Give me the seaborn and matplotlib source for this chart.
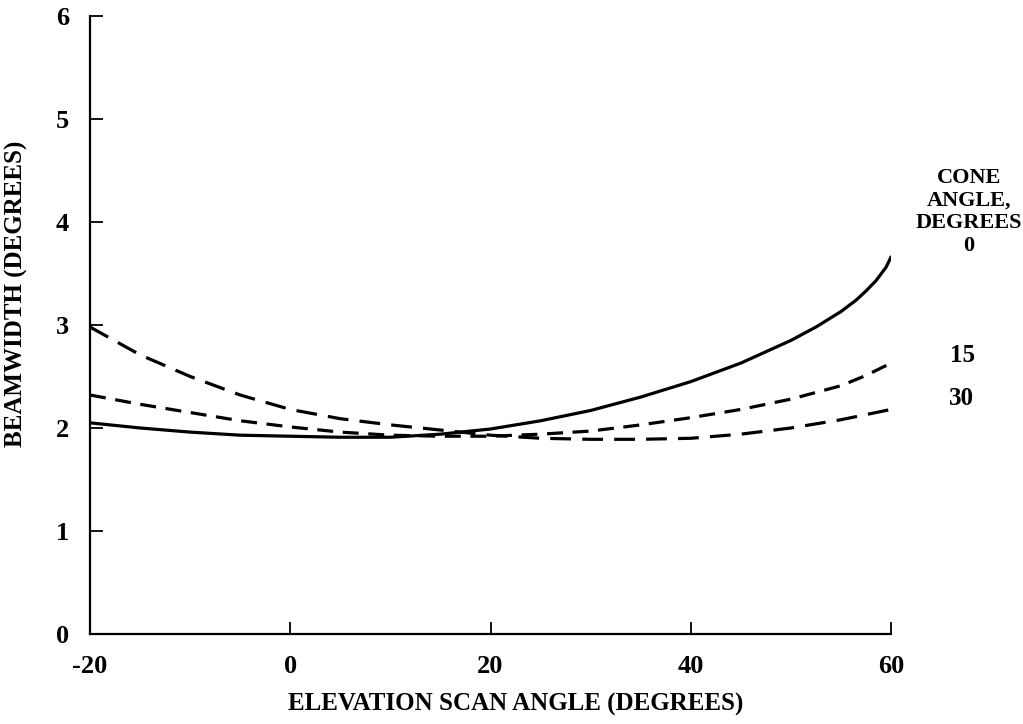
import matplotlib
matplotlib.use("Agg")
import matplotlib.pyplot as plt
import seaborn as sns
import pandas as pd

# Elevation scan angle (degrees) and beamwidth (degrees) read per cone angle
scan_0 = [-20, -15, -10, -5, 0, 5, 10, 15, 20, 25, 30, 35, 40, 45, 47.5, 50, 52.5, 55, 56.5, 57.5, 58.5, 59.5, 60]
bw_cone_0 = [2.05, 2.00, 1.96, 1.93, 1.92, 1.91, 1.91, 1.94, 1.99, 2.07, 2.17, 2.30, 2.45, 2.63, 2.74, 2.85, 2.98, 3.13, 3.24, 3.33, 3.43, 3.56, 3.66]
scan_15 = [-20, -15, -10, -5, 0, 5, 10, 15, 20, 25, 30, 35, 40, 45, 50, 55, 57.5, 60]
bw_cone_15 = [2.32, 2.23, 2.15, 2.07, 2.01, 1.96, 1.93, 1.92, 1.92, 1.94, 1.97, 2.03, 2.10, 2.18, 2.28, 2.41, 2.51, 2.63]
scan_30 = [-20, -15, -10, -5, 0, 5, 10, 15, 20, 25, 30, 35, 40, 45, 50, 55, 57.5, 60]
bw_cone_30 = [2.98, 2.71, 2.50, 2.32, 2.18, 2.09, 2.03, 1.98, 1.93, 1.90, 1.89, 1.89, 1.90, 1.94, 2.00, 2.08, 2.13, 2.18]
cone_labels = ["0", "15", "30"]

x_ticks = [-20, 0, 20, 40, 60]
y_ticks = [0, 1, 2, 3, 4, 5, 6]

rows = []
for lab, xs, vals in zip(cone_labels, [scan_0, scan_15, scan_30], [bw_cone_0, bw_cone_15, bw_cone_30]):
    for xv, yv in zip(xs, vals):
        rows.append({"scan": xv, "bw": yv, "cone": lab})
df = pd.DataFrame(rows)

sns.set_style("ticks")
plt.rcParams["font.family"] = ["Liberation Serif", "DejaVu Serif"]
plt.rcParams["font.weight"] = "bold"
plt.rcParams["text.color"] = "black"
plt.rcParams["axes.labelcolor"] = "black"

fig = plt.figure(figsize=(10.23, 7.24), dpi=100)
ax = fig.add_axes([0.088, 0.1243, 0.783, 0.8537])

sns.lineplot(data=df, x="scan", y="bw", hue="cone", style="cone",
             palette={"0": "black", "15": "black", "30": "black"},
             dashes={"0": "", "15": (5, 3), "30": (6.5, 3.5)},
             linewidth=2.3, legend=False, ax=ax, sort=False)

ax.set_xlim(-20, 60)
ax.set_ylim(0, 6)
ax.set_xticks(x_ticks)
ax.set_yticks(y_ticks)
ax.set_xticklabels([str(t) for t in x_ticks])
ax.set_yticklabels([str(t) for t in y_ticks])
ax.tick_params(direction="in", length=9, width=1.3, labelsize=19, colors="black")
ax.tick_params(axis="x", pad=15)
ax.tick_params(axis="y", pad=15)
for lab in ax.get_xticklabels() + ax.get_yticklabels():
    lab.set_fontweight("bold")
sns.despine(ax=ax)
for s in ["left", "bottom"]:
    ax.spines[s].set_linewidth(1.6)
    ax.spines[s].set_color("black")

ax.set_xlabel("ELEVATION SCAN ANGLE (DEGREES)", fontsize=18, fontweight="bold")
ax.xaxis.set_label_coords(0.532, -0.096)
ax.set_ylabel("BEAMWIDTH (DEGREES)", fontsize=18, fontweight="bold")
ax.yaxis.set_label_coords(-0.077, 0.55)

fig.text(969 / 1023, 1 - 212 / 724, "CONE\nANGLE,\nDEGREES\n0", ha="center", va="center",
         fontsize=16, fontweight="bold", linespacing=1.18)
fig.text(962 / 1023, 1 - 355 / 724, "15", ha="center", va="center", fontsize=18, fontweight="bold")
fig.text(961 / 1023, 1 - 399 / 724, "30", ha="center", va="center", fontsize=18, fontweight="bold")

fig.savefig("out.png", dpi=100, facecolor="white")
